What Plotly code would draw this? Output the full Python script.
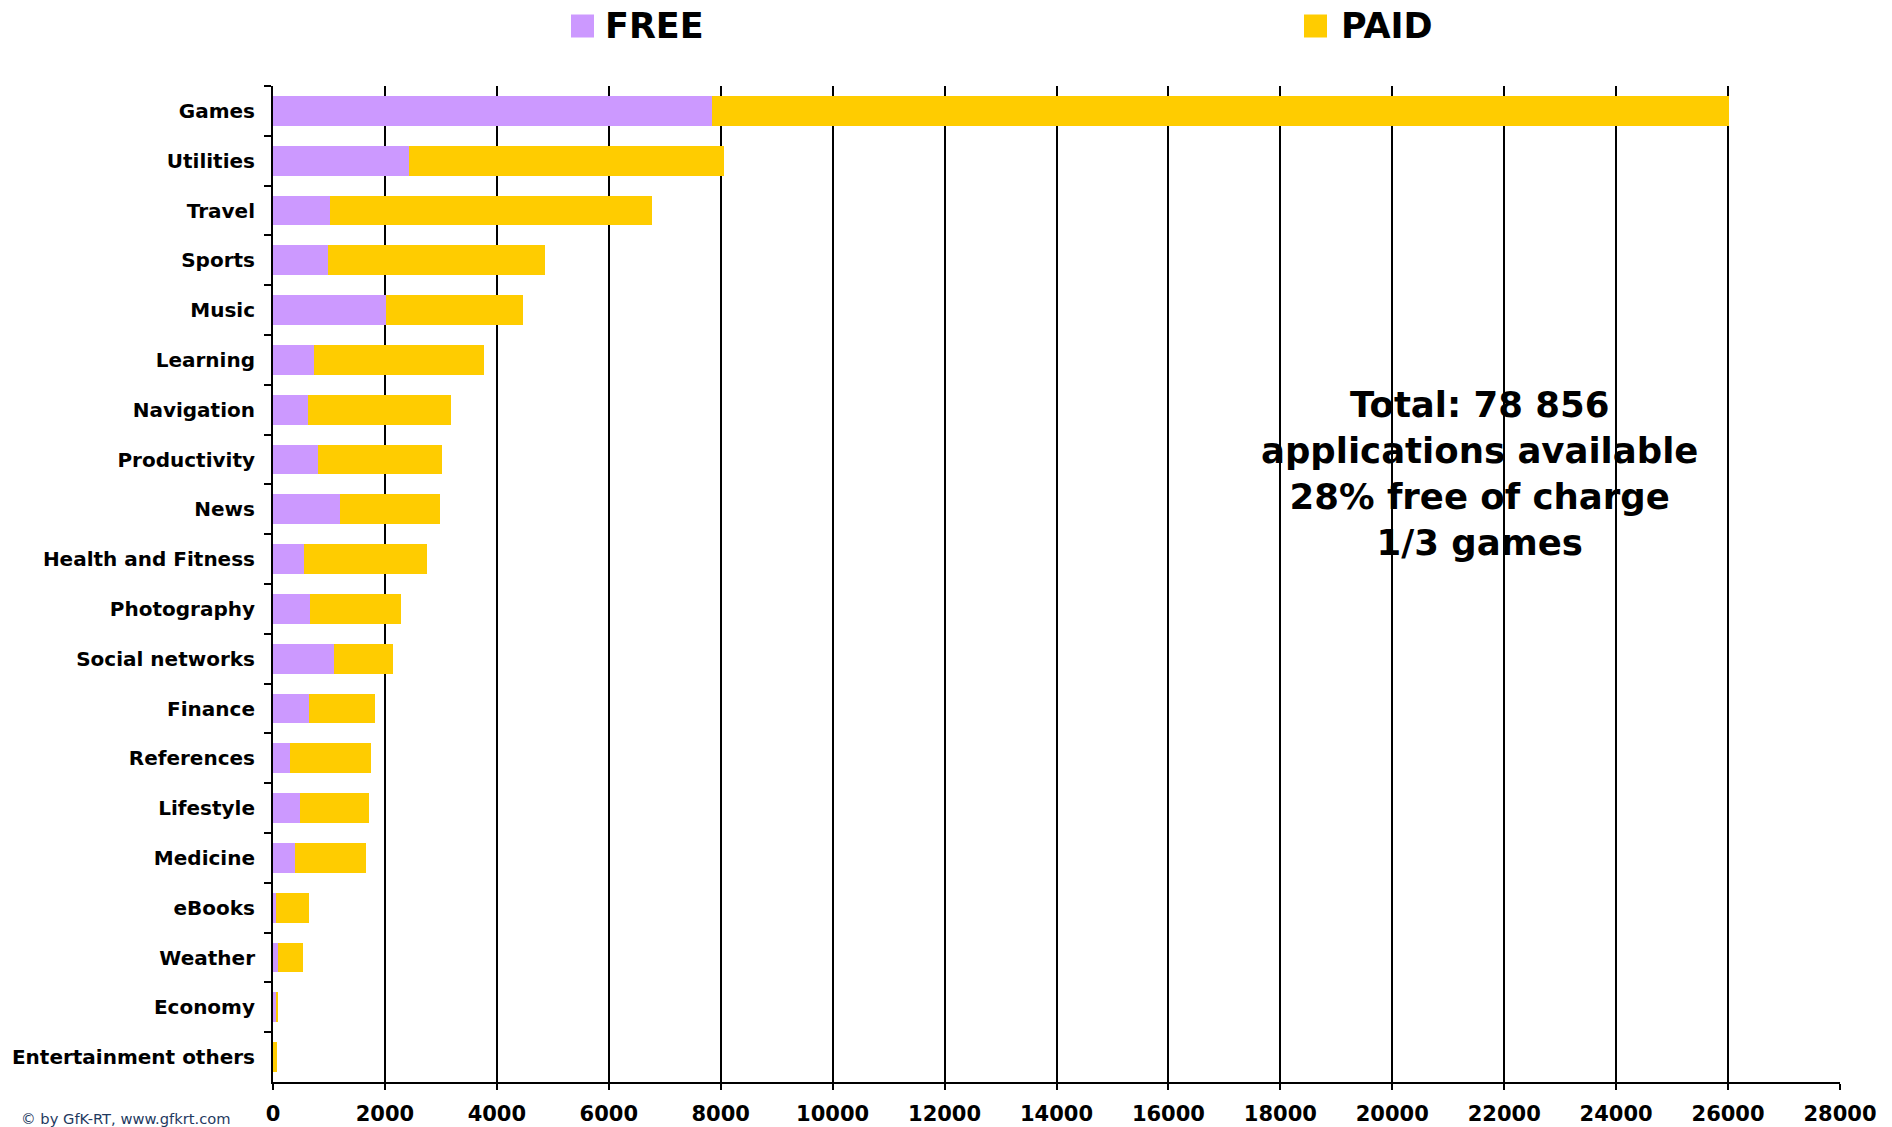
import plotly.graph_objects as go

# ---------------- data ----------------
categories = ["Games", "Utilities", "Travel", "Sports", "Music", "Learning",
              "Navigation", "Productivity", "News", "Health and Fitness",
              "Photography", "Social networks", "Finance", "References",
              "Lifestyle", "Medicine", "eBooks", "Weather", "Economy",
              "Entertainment others"]
free_apps = [7840, 2437, 1020, 980, 2020, 730, 624, 800, 1190, 550,
             664, 1082, 646, 303, 478, 392, 52, 97, 53, 0]
paid_apps = [18170, 5628, 5748, 3873, 2445, 3048, 2549, 2227, 1797, 2194,
             1622, 1057, 1182, 1446, 1232, 1278, 588, 433, 42, 77]
x_ticks = list(range(0, 28001, 2000))
series_names = ["FREE", "PAID"]
series_colors = ["#CC99FF", "#FFCC00"]
note_lines = ["Total: 78 856", "applications available", "28% free of charge", "1/3 games"]
credit = "© by GfK-RT, www.gfkrt.com"

# ---------------- layout geometry ----------------
W, H = 1892, 1127
L, R, T, B = 273, 52, 86, 45
PW, PH = W - L - R, H - T - B
FONT = "DejaVu Sans"


def px_x(p):
    return (p - L) / PW


def px_y(p):
    return (H - B - p) / PH


fig = go.Figure()
for name, vals, col in zip(series_names, [free_apps, paid_apps], series_colors):
    fig.add_trace(go.Bar(y=categories, x=vals, name=name, orientation="h",
                         marker=dict(color=col, line=dict(width=0)),
                         showlegend=False))

# legend drawn as shapes + text
legend_pos = [(571, 603), (1304, 1339)]
shapes = []
annotations = []
for (sx, tx), name, col in zip(legend_pos, series_names, series_colors):
    shapes.append(dict(type="rect", xref="paper", yref="paper",
                       x0=px_x(sx), x1=px_x(sx + 23), y0=px_y(37.5), y1=px_y(14.5),
                       fillcolor=col, line=dict(width=0)))
    annotations.append(dict(text=name, xref="paper", yref="paper",
                            x=px_x(tx), y=px_y(26), xanchor="left", yanchor="middle",
                            showarrow=False,
                            font=dict(family=FONT, size=35, color="black", weight="bold")))

annotations.append(dict(text="<br>".join(note_lines), xref="paper", yref="paper",
                        x=px_x(1479), y=px_y(474), xanchor="center", yanchor="middle",
                        align="center", showarrow=False,
                        font=dict(family=FONT, size=35.5, color="black", weight="bold")))
annotations.append(dict(text=credit, xref="paper", yref="paper",
                        x=px_x(20), y=px_y(1128), xanchor="left", yanchor="bottom",
                        showarrow=False, borderpad=0,
                        font=dict(family=FONT, size=14.7, color="#1F3A5F")))

fig.update_layout(
    width=W, height=H,
    margin=dict(l=L, r=R, t=T, b=B, pad=0, autoexpand=False),
    paper_bgcolor="white", plot_bgcolor="white",
    barmode="stack", bargap=0.40,
    shapes=shapes, annotations=annotations,
    font=dict(family=FONT, color="black"),
)
fig.update_xaxes(range=[0, 28000], tickvals=x_ticks, ticktext=[str(v) for v in x_ticks],
                 showgrid=True, gridcolor="black", gridwidth=2,
                 showline=True, linecolor="black", linewidth=2,
                 ticks="outside", ticklen=6, tickwidth=2, tickcolor="black",
                 zeroline=False, ticklabelstandoff=6, automargin=False,
                 tickfont=dict(family=FONT, size=21, color="black", weight="bold"))
fig.update_yaxes(categoryorder="array", categoryarray=categories, autorange="reversed",
                 showline=True, linecolor="black", linewidth=2,
                 ticks="outside", tickson="boundaries", ticklen=7, tickwidth=2,
                 tickcolor="black", showgrid=False, zeroline=False,
                 ticklabelstandoff=12, automargin=False,
                 tickfont=dict(family=FONT, size=20, color="black", weight="bold"))

fig.write_html("out.html", config={"displayModeBar": False},
               post_script="document.body.style.margin='0';")
